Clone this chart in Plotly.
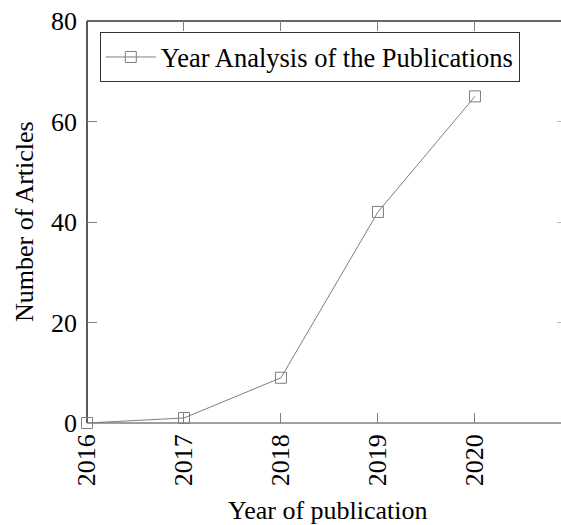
import plotly.graph_objects as go

years = [2016, 2017, 2018, 2019, 2020]
articles = [0, 1, 9, 42, 65]
series_name = "Year Analysis of the Publications"
x_title = "Year of publication"
y_title = "Number of Articles"
y_ticks = [0, 20, 40, 60, 80]

FONT = "Liberation Serif"
FS = 26
GRAY = "#7f7f7f"

fig = go.Figure()
fig.add_trace(go.Scatter(
    x=years, y=articles, mode="lines+markers", name=series_name,
    line=dict(color=GRAY, width=1), cliponaxis=False,
    marker=dict(symbol="square-open", size=11, color=GRAY, line=dict(width=1)),
))
fig.add_trace(go.Scatter(x=years, y=articles, xaxis="x2", yaxis="y2",
                         mode="markers", marker=dict(opacity=0), showlegend=False,
                         hoverinfo="skip"))

fig.update_layout(
    width=561, height=525,
    margin=dict(l=87, r=0, t=21, b=102, autoexpand=False),
    paper_bgcolor="white", plot_bgcolor="white",
    font=dict(family=FONT, size=FS, color="black"),
    showlegend=True,
    legend=dict(x=0.027, y=0.972, xanchor="left", yanchor="top",
                bordercolor="#333333", borderwidth=1, bgcolor="white",
                font=dict(family=FONT, size=26.5), itemwidth=50,
                tracegroupgap=0),
    xaxis=dict(range=[2016, 2020.887], tickvals=years, ticktext=[str(y) for y in years],
               tickangle=-90, ticks="inside", ticklen=10, tickcolor=GRAY,
               showgrid=False, zeroline=False, showline=False, automargin=False,
               tickfont=dict(family=FONT, size=FS), ticklabelstandoff=5),
    yaxis=dict(range=[0, 80], tickvals=y_ticks, ticks="inside", ticklen=10,
               tickcolor=GRAY, showgrid=False, zeroline=False, showline=False,
               automargin=False, tickfont=dict(family=FONT, size=FS),
               ticklabelstandoff=9),
    xaxis2=dict(range=[2016, 2020.887], overlaying="x", side="top", tickvals=years[1:],
                ticks="inside", ticklen=10, tickcolor=GRAY, showticklabels=False,
                showgrid=False, zeroline=False, showline=False, automargin=False),
    yaxis2=dict(range=[0, 80], overlaying="y", side="right", tickvals=y_ticks[1:-1],
                ticks="inside", ticklen=4, tickcolor="#bbbbbb", showticklabels=False,
                showgrid=False, zeroline=False, showline=False, automargin=False),
    shapes=[
        dict(type="line", xref="paper", yref="paper", x0=0, x1=0, y0=0, y1=1,
             line=dict(color="black", width=1.3), layer="below"),
        dict(type="line", xref="paper", yref="paper", x0=0, x1=1, y0=1, y1=1,
             line=dict(color="#333333", width=1.3), layer="below"),
        dict(type="line", xref="paper", yref="paper", x0=0, x1=1, y0=0, y1=0,
             line=dict(color=GRAY, width=1.5), layer="below"),
    ],
    annotations=[
        dict(text=x_title, xref="paper", yref="paper", x=(328 - 87) / 474,
             y=-(510 - 423) / 402, xanchor="center", yanchor="middle",
             showarrow=False, font=dict(family=FONT, size=FS)),
        dict(text=y_title, xref="paper", yref="paper", x=-(87 - 24) / 474,
             y=(423 - 222) / 402, xanchor="center", yanchor="middle",
             textangle=-90, showarrow=False, font=dict(family=FONT, size=FS)),
    ],
)

fig.write_html("out.html", config={"displayModeBar": False},
               post_script="document.body.style.margin='0';document.body.style.overflow='hidden';")
